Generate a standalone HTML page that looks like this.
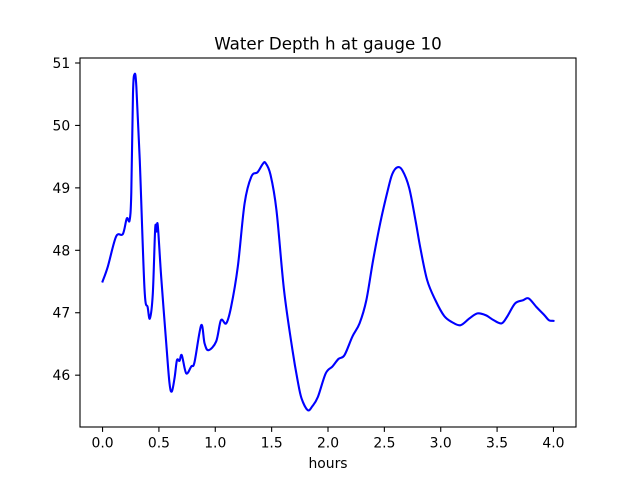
<!DOCTYPE html>
<html><head><meta charset="utf-8"><style>
body{margin:0;background:#fff}
svg text{font-family:"DejaVu Sans","Liberation Sans",sans-serif;fill:#000}
</style></head><body>
<svg width="640" height="480" xmlns="http://www.w3.org/2000/svg">
<rect x="0" y="0" width="640" height="480" fill="#fff"/>
<g id="plot"></g>
</svg>
<script>
const times=[0,0.047,0.12,0.18,0.215,0.24,0.255,0.27,0.284,0.30,0.33,0.372,0.40,0.42,0.446,0.467,0.479,0.49,0.52,0.565,0.594,0.615,0.64,0.66,0.683,0.703,0.742,0.787,0.816,0.875,0.905,0.94,1.008,1.05,1.097,1.14,1.20,1.26,1.32,1.375,1.42,1.445,1.49,1.543,1.61,1.685,1.73,1.765,1.82,1.86,1.91,1.98,2.04,2.093,2.146,2.217,2.28,2.34,2.40,2.465,2.53,2.57,2.616,2.66,2.72,2.776,2.82,2.88,2.953,3.03,3.10,3.175,3.255,3.326,3.40,3.47,3.54,3.59,3.66,3.73,3.78,3.85,3.92,3.96,4.0];
const depths=[47.50,47.74,48.22,48.26,48.51,48.48,48.92,50.51,50.82,50.62,49.45,47.39,47.09,46.91,47.31,48.35,48.30,48.40,47.58,46.51,45.87,45.74,45.97,46.24,46.23,46.32,46.03,46.14,46.21,46.80,46.51,46.40,46.54,46.88,46.83,47.09,47.74,48.75,49.18,49.25,49.38,49.40,49.21,48.64,47.36,46.40,45.92,45.63,45.44,45.50,45.65,46.03,46.14,46.26,46.32,46.62,46.83,47.20,47.84,48.45,48.96,49.22,49.33,49.28,49.0,48.48,48.03,47.52,47.20,46.95,46.85,46.80,46.91,46.99,46.96,46.88,46.83,46.94,47.15,47.20,47.23,47.09,46.96,46.88,46.87];
const xTicks=[0,0.5,1,1.5,2,2.5,3,3.5,4];
const xTickLabels=["0.0","0.5","1.0","1.5","2.0","2.5","3.0","3.5","4.0"];
const yTicks=[46,47,48,49,50,51];
const yTickLabels=["46","47","48","49","50","51"];

const L=80,R=576,T=58,B=427;
const xMin=-0.2,xMax=4.2,yMin=45.17,yMax=51.08;
const sx=v=>L+(v-xMin)/(xMax-xMin)*(R-L);
const sy=v=>B-(v-yMin)/(yMax-yMin)*(B-T);
const NS="http://www.w3.org/2000/svg";
const g=document.getElementById('plot');
function mk(tag,attrs){const e=document.createElementNS(NS,tag);for(const k in attrs)e.setAttribute(k,attrs[k]);g.appendChild(e);return e;}

const P=times.map((t,i)=>[sx(t),sy(depths[i])]);
let d='M'+P[0][0].toFixed(2)+','+P[0][1].toFixed(2);
for(let i=0;i<P.length-1;i++){
  const p0=P[Math.max(0,i-1)],p1=P[i],p2=P[i+1],p3=P[Math.min(P.length-1,i+2)];
  const c1x=p1[0]+(p2[0]-p0[0])/6,c1y=p1[1]+(p2[1]-p0[1])/6;
  const c2x=p2[0]-(p3[0]-p1[0])/6,c2y=p2[1]-(p3[1]-p1[1])/6;
  d+=' C'+c1x.toFixed(2)+','+c1y.toFixed(2)+' '+c2x.toFixed(2)+','+c2y.toFixed(2)+' '+p2[0].toFixed(2)+','+p2[1].toFixed(2);
}
const line=mk('path',{d:d,fill:'none',stroke:'#0000ff','stroke-width':2.1,'stroke-linejoin':'round','stroke-linecap':'square'});



const frame=mk('rect',{x:L,y:T,width:R-L,height:B-T,fill:'none',stroke:'#000','stroke-width':1.1});



xTicks.forEach((v,i)=>{
  const x=sx(v);
  const tk=mk('line',{x1:x,x2:x,y1:B,y2:B+4.9,stroke:'#000','stroke-width':1.1});
  
  
  const tx=mk('text',{x:x,y:B+20.5,'text-anchor':'middle','font-size':13.9});
  tx.textContent=xTickLabels[i];
  
  
});
yTicks.forEach((v,i)=>{
  const y=sy(v);
  const tk=mk('line',{x1:L-4.9,x2:L,y1:y,y2:y,stroke:'#000','stroke-width':1.1});
  
  
  const tx=mk('text',{x:L-9.8,y:y+5,'text-anchor':'end','font-size':13.9});
  tx.textContent=yTickLabels[i];
  
  
});
const xt=mk('text',{x:(L+R)/2,y:B+41,'text-anchor':'middle','font-size':13.9});
xt.textContent='hours';


const ti=mk('text',{x:(L+R)/2,y:T-8.5,'text-anchor':'middle','font-size':16.7});
ti.textContent='Water Depth h at gauge 10';


</script>
</body></html>
